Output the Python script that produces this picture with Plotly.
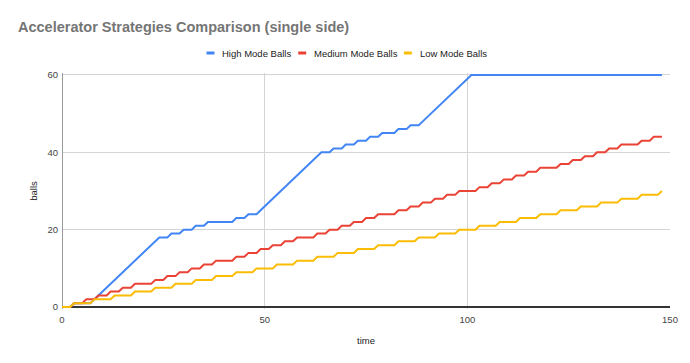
import plotly.graph_objects as go

# ---------------- data ----------------
chart_title = "Accelerator Strategies Comparison (single side)"
x_title = "time"
y_title = "balls"
series_names = ["High Mode Balls", "Medium Mode Balls", "Low Mode Balls"]
series_colors = ["#4285F4", "#EA4335", "#FBBC04"]
x_ticks = [0, 50, 100, 150]
y_ticks = [0, 20, 40, 60]

time = [
    0, 1, 2, 3, 4, 5, 6, 7, 8, 9,
    10, 11, 12, 13, 14, 15, 16, 17, 18, 19,
    20, 21, 22, 23, 24, 25, 26, 27, 28, 29,
    30, 31, 32, 33, 34, 35, 36, 37, 38, 39,
    40, 41, 42, 43, 44, 45, 46, 47, 48, 49,
    50, 51, 52, 53, 54, 55, 56, 57, 58, 59,
    60, 61, 62, 63, 64, 65, 66, 67, 68, 69,
    70, 71, 72, 73, 74, 75, 76, 77, 78, 79,
    80, 81, 82, 83, 84, 85, 86, 87, 88, 89,
    90, 91, 92, 93, 94, 95, 96, 97, 98, 99,
    100, 101, 102, 103, 104, 105, 106, 107, 108, 109,
    110, 111, 112, 113, 114, 115, 116, 117, 118, 119,
    120, 121, 122, 123, 124, 125, 126, 127, 128, 129,
    130, 131, 132, 133, 134, 135, 136, 137, 138, 139,
    140, 141, 142, 143, 144, 145, 146, 147, 148,
]

high_mode = [
    0, 0, 0, 1, 1, 1, 1, 1, 2, 3,
    4, 5, 6, 7, 8, 9, 10, 11, 12, 13,
    14, 15, 16, 17, 18, 18, 18, 19, 19, 19,
    20, 20, 20, 21, 21, 21, 22, 22, 22, 22,
    22, 22, 22, 23, 23, 23, 24, 24, 24, 25,
    26, 27, 28, 29, 30, 31, 32, 33, 34, 35,
    36, 37, 38, 39, 40, 40, 40, 41, 41, 41,
    42, 42, 42, 43, 43, 43, 44, 44, 44, 45,
    45, 45, 45, 46, 46, 46, 47, 47, 47, 48,
    49, 50, 51, 52, 53, 54, 55, 56, 57, 58,
    59, 60, 60, 60, 60, 60, 60, 60, 60, 60,
    60, 60, 60, 60, 60, 60, 60, 60, 60, 60,
    60, 60, 60, 60, 60, 60, 60, 60, 60, 60,
    60, 60, 60, 60, 60, 60, 60, 60, 60, 60,
    60, 60, 60, 60, 60, 60, 60, 60, 60,
]

medium_mode = [
    0, 0, 0, 1, 1, 1, 2, 2, 2, 3,
    3, 3, 4, 4, 4, 5, 5, 5, 6, 6,
    6, 6, 6, 7, 7, 7, 8, 8, 8, 9,
    9, 9, 10, 10, 10, 11, 11, 11, 12, 12,
    12, 12, 12, 13, 13, 13, 14, 14, 14, 15,
    15, 15, 16, 16, 16, 17, 17, 17, 18, 18,
    18, 18, 18, 19, 19, 19, 20, 20, 20, 21,
    21, 21, 22, 22, 22, 23, 23, 23, 24, 24,
    24, 24, 24, 25, 25, 25, 26, 26, 26, 27,
    27, 27, 28, 28, 28, 29, 29, 29, 30, 30,
    30, 30, 30, 31, 31, 31, 32, 32, 32, 33,
    33, 33, 34, 34, 34, 35, 35, 35, 36, 36,
    36, 36, 36, 37, 37, 37, 38, 38, 38, 39,
    39, 39, 40, 40, 40, 41, 41, 41, 42, 42,
    42, 42, 42, 43, 43, 43, 44, 44, 44,
]

low_mode = [
    0, 0, 0, 1, 1, 1, 1, 1, 2, 2,
    2, 2, 2, 3, 3, 3, 3, 3, 4, 4,
    4, 4, 4, 5, 5, 5, 5, 5, 6, 6,
    6, 6, 6, 7, 7, 7, 7, 7, 8, 8,
    8, 8, 8, 9, 9, 9, 9, 9, 10, 10,
    10, 10, 10, 11, 11, 11, 11, 11, 12, 12,
    12, 12, 12, 13, 13, 13, 13, 13, 14, 14,
    14, 14, 14, 15, 15, 15, 15, 15, 16, 16,
    16, 16, 16, 17, 17, 17, 17, 17, 18, 18,
    18, 18, 18, 19, 19, 19, 19, 19, 20, 20,
    20, 20, 20, 21, 21, 21, 21, 21, 22, 22,
    22, 22, 22, 23, 23, 23, 23, 23, 24, 24,
    24, 24, 24, 25, 25, 25, 25, 25, 26, 26,
    26, 26, 26, 27, 27, 27, 27, 27, 28, 28,
    28, 28, 28, 29, 29, 29, 29, 29, 30,
]

# ---------------- layout constants ----------------
W, H = 690, 363
# y range padded by 0.5 unit on each side so flat lines at 0 and 60
# are not clipped; the 0 and 60 grid lines stay at y=307 and y=75 px.
Y_LO, Y_HI = -0.5, 60.5
ML, MR, MT, MB = 62, 18, 73, 54
PW, PH = W - ML - MR, H - MT - MB
Y0_PX = 307          # pixel row of value 0
FONT = "Liberation Sans, Arial, sans-serif"


def px_x(px):
    return (px - ML) / PW


def px_y(py):
    return (H - MB - py) / PH


fig = go.Figure()
for name, color, values in zip(series_names, series_colors,
                               [high_mode, medium_mode, low_mode]):
    fig.add_trace(go.Scatter(x=time, y=values, mode="lines", name=name,
                             line=dict(color=color, width=2),
                             showlegend=False))

# manual legend (small swatches like the reference)
legend_swatch_px = [207, 299, 405]
shapes = []
annotations = []
for name, color, sx in zip(series_names, series_colors, legend_swatch_px):
    shapes.append(dict(type="rect", xref="paper", yref="paper",
                       x0=px_x(sx), x1=px_x(sx + 8),
                       y0=px_y(54.5), y1=px_y(51.5),
                       fillcolor=color, line=dict(width=0)))
    annotations.append(dict(text=name, xref="paper", yref="paper",
                            x=px_x(sx + 14), y=px_y(53),
                            xanchor="left", yanchor="middle",
                            showarrow=False,
                            font=dict(family=FONT, size=9.5, color="#222222")))

fig.update_layout(
    width=W, height=H, autosize=False,
    margin=dict(l=ML, r=MR, t=MT, b=MB, pad=0),
    paper_bgcolor="white", plot_bgcolor="white",
    title=dict(text="<b>" + chart_title + "</b>",
               x=18 / W, xanchor="left", xref="container",
               y=1 - 27 / H, yanchor="middle", yref="container",
               font=dict(family=FONT, size=14.5, color="#757575")),
    shapes=shapes,
    annotations=annotations,
    showlegend=False,
)

fig.update_xaxes(
    range=[0, 150], tickvals=x_ticks, ticktext=[str(v) for v in x_ticks],
    showgrid=True, gridcolor="#d4d4d4", gridwidth=1,
    zeroline=True, zerolinecolor="#9a9a9a", zerolinewidth=1,
    showline=False,
    ticks="outside", ticklen=2, tickcolor="rgba(0,0,0,0)",
    tickfont=dict(family=FONT, size=9.5, color="#444444"),
    title=dict(text=x_title, standoff=12,
               font=dict(family=FONT, size=9.5, color="#222222")),
    fixedrange=True,
)
fig.update_yaxes(
    range=[Y_LO, Y_HI], tickvals=y_ticks, ticktext=[str(v) for v in y_ticks],
    showgrid=True, gridcolor="#d4d4d4", gridwidth=1,
    zeroline=True, zerolinecolor="#333333", zerolinewidth=1.5,
    showline=False,
    ticks="outside", ticklen=1, tickcolor="rgba(0,0,0,0)",
    tickfont=dict(family=FONT, size=9.5, color="#444444"),
    title=dict(text=y_title, standoff=8,
               font=dict(family=FONT, size=9.5, color="#222222")),
    fixedrange=True,
)

fig.write_html("out.html", config={"displayModeBar": False},
               post_script="document.body.style.margin='0';")
